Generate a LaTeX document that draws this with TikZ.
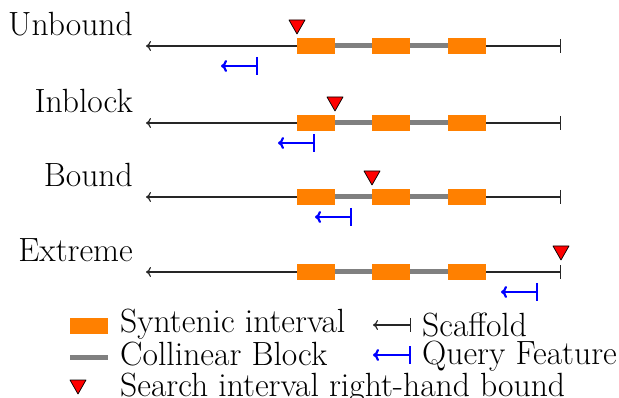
\documentclass[tikz,border=0pt]{standalone}
\usetikzlibrary{arrows.meta}
\definecolor{synt}{RGB}{255,128,0}
\definecolor{colb}{RGB}{128,128,128}
\tikzset{
  lbl/.style={anchor=base east,inner sep=0pt,font=\fontsize{33.6}{40}\selectfont},
  legtxt/.style={anchor=base west,inner sep=0pt,font=\fontsize{33.6}{40}\selectfont},
  scaf/.style={line width=1.2pt,black!85,{To[length=5pt,width=10pt]}-{Bar[width=14pt]}},
  query/.style={line width=2.2pt,blue,{To[length=6pt,width=12pt]}-{Bar[width=18pt]}},
  syn/.style={fill=synt,draw=none},
  coll/.style={line width=5pt,colb},
  bnd/.style={fill=red,draw=black,line width=0.7pt,line join=round},
}
\begin{document}
\begin{tikzpicture}[x=1pt,y=-1pt]
\useasboundingbox (0,0) rectangle (619,398);
% rows
\foreach \name/\txt/\yy/\tri/\qb in {u/Unbound/46/297/258, i/Inblock/123/335/315, b/Bound/197/372/352, e/Extreme/272/561/538}{
  \node[lbl] (\name lab) at (133,\yy-10) {\txt};
  \coordinate (\name L) at (146,\yy);
  \coordinate (\name R) at (561,\yy);
  \draw[scaf] (\name L) -- (\name R);
  \draw[coll] (297,\yy) -- (486,\yy);
  \fill[syn] (297,\yy-8) rectangle (335,\yy+8);
  \fill[syn] (372,\yy-8) rectangle (410,\yy+8);
  \fill[syn] (448,\yy-8) rectangle (486,\yy+8);
  \draw[bnd] (\tri,\yy-12) -- (\tri-8,\yy-26) -- (\tri+8,\yy-26) -- cycle;
  \coordinate (\name QB) at (\qb,\yy+20);
  \coordinate (\name QT) at (\qb-37,\yy+20);
  \draw[query] (\name QT) -- (\name QB);
}
% legend
\fill[syn] (70,318) rectangle (108,334);
\node[legtxt] (l1) at (120,333) {Syntenic interval};
\draw[coll] (70,357) -- (108,357);
\node[legtxt] (l2) at (120,365) {Collinear Block};
\draw[bnd] (78,394) -- (70,380) -- (86,380) -- cycle;
\node[legtxt] (l3) at (120,396) {Search interval right-hand bound};
\coordinate (s1) at (373,325);
\coordinate (s2) at (411,325);
\draw[scaf] (s1) -- (s2);
\node[legtxt] (l4) at (422,337) {Scaffold};
\coordinate (q1) at (373,355);
\coordinate (q2) at (411,355);
\draw[query] (q1) -- (q2);
\node[legtxt] (l5) at (422,364) {Query Feature};
\end{tikzpicture}
\end{document}
